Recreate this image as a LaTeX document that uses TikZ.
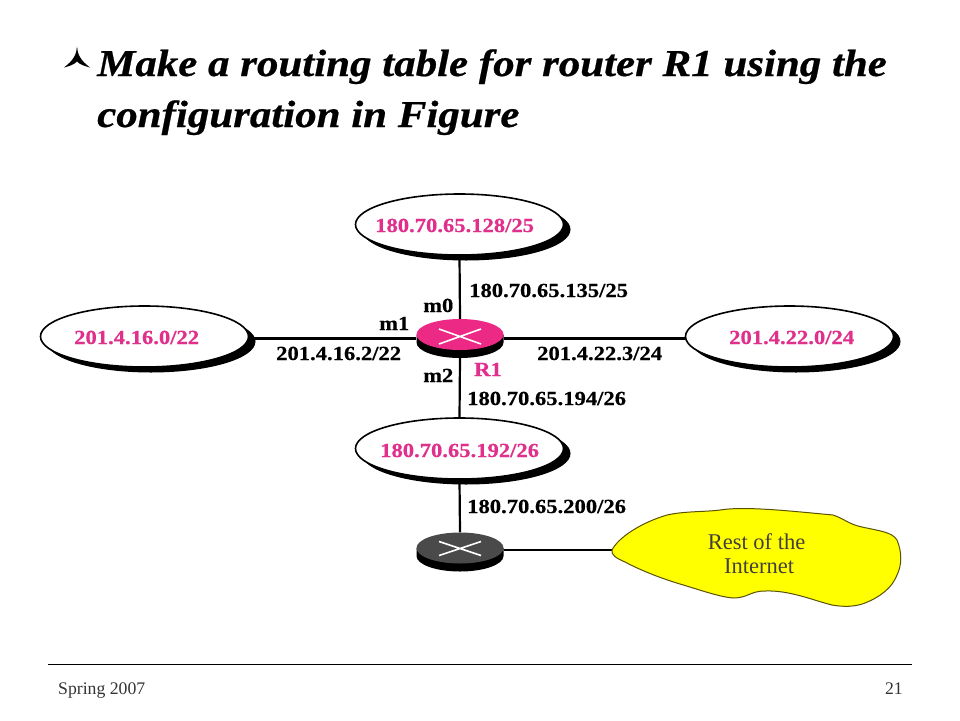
\documentclass[tikz,border=0pt]{standalone}
\usepackage{fontspec}
\setmainfont{Liberation Serif}
\newfontfamily\labfont[FakeStretch=1.13,FakeBold=0.5]{Liberation Serif}
\newfontfamily\titlefont[FakeStretch=1.13,FakeBold=0.6]{Liberation Serif}
\usetikzlibrary{shapes.geometric,calc}
\definecolor{pinkfill}{HTML}{EC2A85}
\definecolor{pinktext}{HTML}{E0308C}
\definecolor{routergray}{HTML}{4A4A4A}
\definecolor{cloudyellow}{HTML}{FFFF00}
\definecolor{cloudedge}{HTML}{5A5200}
\tikzset{
  x=1pt,y=-1pt,
  netshadow/.style={fill=black,draw=none,ellipse,minimum width=209pt,minimum height=62pt,inner sep=0pt},
  netnode/.style={fill=white,draw=black,line width=1.6pt,ellipse,minimum width=208pt,minimum height=61pt,inner sep=0pt},
  routerarea/.style={ellipse,draw=none,minimum width=87pt,minimum height=39pt,inner sep=0pt},
  routertop/.style={ellipse,draw=none,minimum width=87pt,minimum height=31pt,inner sep=0pt},
  link/.style={draw=black,line width=2.2pt},
  cross/.style={draw=white,line width=1.6pt},
  lab/.style={inner sep=0pt,text=black,font=\labfont\fontsize{20}{24}\selectfont\bfseries,anchor=base west},
  pinklab/.style={lab,text=pinktext},
  titletext/.style={inner sep=0pt,anchor=base west,font=\titlefont\fontsize{38}{42}\selectfont\bfseries\itshape},
  foot/.style={inner sep=0pt,font=\fontsize{17.7}{20}\selectfont,text=black!80}
}
\begin{document}
\begin{tikzpicture}
\useasboundingbox (0,0) rectangle (960,720);
\fill[white] (0,0) rectangle (960,720);
% bullet
\fill[black] (77,46.5) .. controls (77.5,54) and (80,60) .. (90,67.5) .. controls (84,66) and (80,64.5) .. (77,61.5) .. controls (74,64.5) and (70,66) .. (64,67.5) .. controls (74,60) and (76.5,54) .. (77,46.5) -- cycle;
% title
\node[titletext] (t1) at (97,76) {Make a routing table for router R1 using the};
\node[titletext] (t2) at (97,127) {configuration in Figure};
% networks
\node[netshadow] at (466,229.5) {};
\node[netshadow] at (151,341.5) {};
\node[netshadow] at (796,341.5) {};
\node[netshadow] at (466,453.5) {};
\node[netnode] (ntop) at (459.5,224.5) {};
\node[netnode] (nleft) at (144.5,336.5) {};
\node[netnode] (nright) at (789.5,336.5) {};
\node[netnode] (nbot) at (459.5,448.5) {};
\node[pinklab] (ltop) at (375,232) {180.70.65.128/25};
\node[pinklab] (lleft) at (74,344) {201.4.16.0/22};
\node[pinklab] (lright) at (729,344) {201.4.22.0/24};
\node[pinklab] (lbot) at (380,457) {180.70.65.192/26};
% routers
\node[routerarea] (r1) at (460,338.5) {};
\node[routerarea] (r2) at (460,552) {};
\draw[link] (ntop.south) -- (r1.north);
\draw[link] (nbot.north) -- (r1.south);
\draw[link] (nleft.east |- r1.west) -- (r1.west);
\draw[link] (nright.west |- r1.east) -- (r1.east);
\draw[link] (nbot.south) -- (r2.north);
\coordinate (cloudw) at (612,550);
\draw[link] (r2.east |- cloudw) -- (cloudw);
\fill[black] (416.5,334.5) -- (416.5,342.5) arc[start angle=180,end angle=0,x radius=43.5,y radius=15.5] -- (503.5,334.5) -- cycle;
\node[routertop,fill=pinkfill] (r1top) at (460,334.5) {};
\draw[cross] (439,344) -- (481,329) (439,329) -- (481,344);
\fill[black] (416.5,548) -- (416.5,556) arc[start angle=180,end angle=0,x radius=43.5,y radius=15.5] -- (503.5,548) -- cycle;
\node[routertop,fill=routergray] (r2top) at (460,548) {};
\draw[cross] (439,555.5) -- (481,541.5) (439,541.5) -- (481,555.5);
% cloud
\draw[fill=cloudyellow,draw=cloudedge,line width=1pt]
  (cloudw) .. controls (618,538) and (640,523) .. (667,515)
  .. controls (685,511) and (705,512) .. (720,510)
  .. controls (745,506) and (790,511) .. (833,515)
  .. controls (845,519) and (848,524) .. (862,527)
  .. controls (880,531) and (892,532) .. (897,540)
  .. controls (902,552) and (902,565) .. (897,575)
  .. controls (892,588) and (880,597) .. (865,603)
  .. controls (855,607) and (843,607) .. (832,605)
  .. controls (815,601) and (790,590) .. (765,591)
  .. controls (750,591) and (748,598) .. (733,598)
  .. controls (720,597) and (700,590) .. (680,584)
  .. controls (660,578) and (640,570) .. (625,562)
  .. controls (616,558) and (611,555) .. (cloudw) -- cycle;
\node[inner sep=0pt,align=center,text=black!85!yellow,font=\fontsize{22.5}{24}\selectfont] (inet) at (756.5,553.5) {Rest of the\\\hspace*{5pt}Internet};
% labels
\node[lab] (a) at (469,297) {180.70.65.135/25};
\node[lab] (b) at (423,312) {m0};
\node[lab] (c) at (379,330) {m1};
\node[lab] (d) at (276,360) {201.4.16.2/22};
\node[lab] (e) at (537,360) {201.4.22.3/24};
\node[lab] (f) at (423,382) {m2};
\node[pinklab] (g) at (474,376) {R1};
\node[lab] (h) at (467,405) {180.70.65.194/26};
\node[lab] (i) at (467,513) {180.70.65.200/26};
% footer
\coordinate (fl) at (48,664);
\coordinate (fr) at (912,664);
\draw[black,line width=1pt] (fl) -- (fr);
\node[foot,anchor=base west] (sp) at (58,694) {Spring 2007};
\node[foot,anchor=base east] (pg) at (903,694) {21};
\end{tikzpicture}
\end{document}
